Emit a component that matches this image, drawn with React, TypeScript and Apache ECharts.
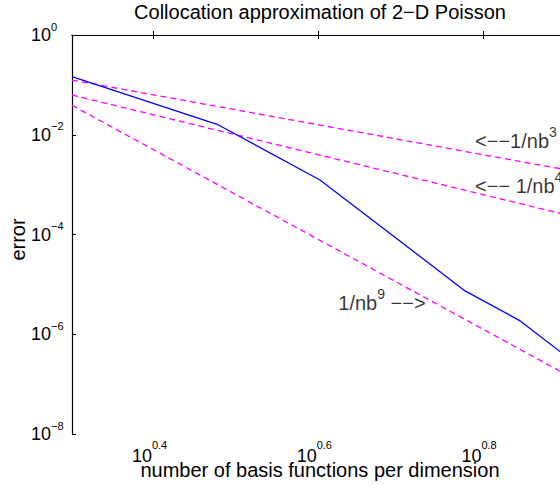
import React, { useEffect, useRef } from "react";
import * as echarts from "echarts";

// Basis functions per dimension and the measured collocation error
const nb = [2, 3, 4, 5, 6, 7, 8];
const err = [0.146, 0.0162, 1.24e-3, 7.4e-5, 7.4e-6, 1.85e-6, 3.4e-7];

// Reference slopes, drawn between their two end points
const guideNb = [2, 8];
const guideCubic = [0.125, 0.001953];
const guideQuartic = [0.0625, 0.000244];
const guideNinth = [0.039, 1.49e-7];

// Annotation anchors (nb, error) and their texts
const noteNb = [6.17, 6.17, 4.21];
const noteErr = [7.5e-3, 9.2e-4, 4.23e-6];
const noteText = ["{b|<−−1/nb}{s|3}", "{b|<−− 1/nb}{s|4}", "{b|1/nb}{s|9}{b| −−>}"];

// Axis ranges and tick positions (exponents of ten)
const xMin = 2;
const xMax = 8;
const xTicks = [0.4, 0.6, 0.8];
const yMinExp = -8;
const yMaxExp = 0;

const FONT = "'Liberation Sans', Arial, sans-serif";
const lg = (v: number) => Math.log10(v);

// Base text of a "10^k" style label: a tall line box keeps the base lower than the exponent
const baseStyle = (size: number, boxHeight: number) => ({
  fontSize: size,
  lineHeight: boxHeight,
  fontFamily: FONT,
  color: "#000",
});
// Exponent: smaller text pinned to the top of the line box
const supStyle = (size: number, padRight = 0) => ({
  fontSize: size,
  lineHeight: size,
  verticalAlign: "top",
  padding: [0, padRight, 0, 0],
  fontFamily: FONT,
  color: "#000",
});

export default function App() {
  const ref = useRef<HTMLDivElement>(null);

  useEffect(() => {
    if (!ref.current) return;
    const chart = echarts.init(ref.current, null, { renderer: "svg" });

    const axisLine = { show: true, lineStyle: { color: "#000", width: 1.2 } };
    const tick = { show: true, inside: true, length: 4, lineStyle: { color: "#000", width: 1 } };

    chart.setOption({
      animation: false,
      backgroundColor: "#fff",
      textStyle: { fontFamily: FONT },
      title: {
        text: "Collocation approximation of 2−D Poisson",
        left: 320,
        top: 2,
        padding: 0,
        textAlign: "center",
        textStyle: { fontSize: 20, fontWeight: "normal", color: "#000", fontFamily: FONT },
      },
      // the plot box runs a few pixels past the right edge of the canvas
      grid: { left: 72, top: 35, width: 496, height: 399, containLabel: false, outerBoundsMode: "none" },
      xAxis: [
        {
          type: "value",
          position: "bottom",
          min: lg(xMin),
          max: lg(xMax),
          axisLine,
          axisTick: { ...tick, customValues: xTicks },
          splitLine: { show: false },
          axisLabel: {
            customValues: xTicks,
            margin: 5,
            formatter: (v: number) => `{b|10}{s|${v}}`,
            rich: { b: baseStyle(18, 34), s: supStyle(11, 8) },
          },
          name: "number of basis functions per dimension",
          nameLocation: "middle",
          nameGap: 26,
          nameMoveOverlap: false,
          nameTextStyle: { fontSize: 20, color: "#000", fontFamily: FONT },
        },
        {
          type: "value",
          position: "top",
          min: lg(xMin),
          max: lg(xMax),
          axisLine,
          axisTick: { ...tick, customValues: xTicks },
          axisLabel: { show: false },
          splitLine: { show: false },
        },
      ],
      yAxis: {
        type: "value",
        min: yMinExp,
        max: yMaxExp,
        interval: 2,
        axisLine,
        axisTick: tick,
        splitLine: { show: false },
        axisLabel: {
          align: "left",
          margin: 41,
          formatter: (v: number) => `{b|10}{s|${v === 0 ? "0" : "−" + Math.abs(v)}}`,
          rich: { b: baseStyle(18, 28), s: supStyle(11) },
        },
        name: "error",
        nameLocation: "middle",
        nameRotate: 90,
        nameGap: 44,
        nameMoveOverlap: false,
        nameTextStyle: { fontSize: 20, color: "#000", fontFamily: FONT, padding: [0, 10, 0, 0] },
      },
      series: [
        {
          type: "line",
          name: "collocation",
          data: nb.map((n, i) => [lg(n), lg(err[i])]),
          showSymbol: false,
          lineStyle: { color: "#0000ff", width: 1.3 },
          z: 3,
        },
        ...[guideCubic, guideQuartic, guideNinth].map((g) => ({
          type: "line",
          data: guideNb.map((n, i) => [lg(n), lg(g[i])]),
          showSymbol: false,
          lineStyle: { color: "#ff00ff", width: 1.3, type: [6, 4] },
          z: 2,
        })),
        {
          type: "scatter",
          data: noteNb.map((n, i) => ({ value: [lg(n), lg(noteErr[i])], text: noteText[i] })),
          symbolSize: 0,
          itemStyle: { color: "transparent" },
          silent: true,
          label: {
            show: true,
            position: [0, 0],
            align: "left",
            verticalAlign: "middle",
            formatter: (p: any) => p.data.text,
            rich: { b: baseStyle(20, 32), s: supStyle(14) },
          },
          z: 4,
        },
      ],
    });

    return () => chart.dispose();
  }, []);

  return (
    <div
      ref={ref}
      style={{ position: "absolute", left: 0, top: 0, width: 560, height: 486 }}
    />
  );
}
